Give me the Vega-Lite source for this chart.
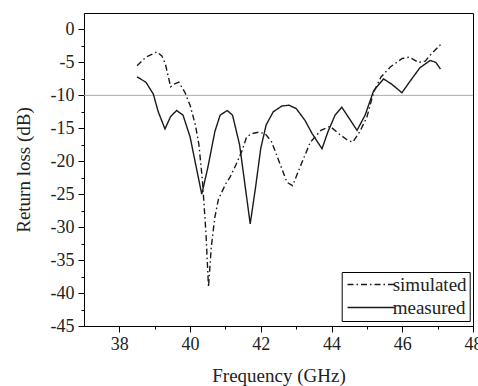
{
  "$schema": "https://vega.github.io/schema/vega-lite/v6.json",
  "width": 389,
  "height": 313,
  "autosize": {"type": "none"},
  "padding": {"left": 84, "top": 13, "right": 5, "bottom": 60},
  "background": "white",
  "config": {
    "font": "Liberation Serif",
    "view": {"stroke": "black", "strokeWidth": 1},
    "axis": {"labelOverlap": false, "labelFlush": false}
  },
  "resolve": {"axis": {"y": "independent"}},
  "layer": [
    {
      "data": {"values": [{"level": -10}]},
      "mark": {"type": "rule", "color": "#aaaaaa", "strokeWidth": 1},
      "encoding": {
        "y": {
          "field": "level",
          "type": "quantitative",
          "scale": {"domain": [-45, 2.5], "nice": false, "zero": false},
          "axis": {
            "orient": "left",
            "title": null,
            "values": [-42.5, -37.5, -32.5, -27.5, -22.5, -17.5, -12.5, -7.5, -2.5],
            "labels": false,
            "domain": false,
            "grid": false,
            "tickSize": 3,
            "tickColor": "black"
          }
        }
      }
    },
    {
      "data": {
        "values": [
          {"f": 38.5, "rl": -7.2, "series": "measured"},
          {"f": 38.75, "rl": -8.0, "series": "measured"},
          {"f": 38.96, "rl": -9.8, "series": "measured"},
          {"f": 39.1, "rl": -12.5, "series": "measured"},
          {"f": 39.29, "rl": -15.1, "series": "measured"},
          {"f": 39.45, "rl": -13.2, "series": "measured"},
          {"f": 39.62, "rl": -12.3, "series": "measured"},
          {"f": 39.8, "rl": -13.0, "series": "measured"},
          {"f": 40.0, "rl": -16.3, "series": "measured"},
          {"f": 40.17, "rl": -20.8, "series": "measured"},
          {"f": 40.33, "rl": -25.0, "series": "measured"},
          {"f": 40.5, "rl": -21.0, "series": "measured"},
          {"f": 40.7, "rl": -15.5, "series": "measured"},
          {"f": 40.85, "rl": -13.0, "series": "measured"},
          {"f": 41.05, "rl": -12.3, "series": "measured"},
          {"f": 41.2, "rl": -13.0, "series": "measured"},
          {"f": 41.4, "rl": -17.5, "series": "measured"},
          {"f": 41.55, "rl": -23.5, "series": "measured"},
          {"f": 41.7, "rl": -29.5, "series": "measured"},
          {"f": 41.85, "rl": -24.0, "series": "measured"},
          {"f": 42.0, "rl": -18.0, "series": "measured"},
          {"f": 42.15, "rl": -14.5, "series": "measured"},
          {"f": 42.35, "rl": -12.5, "series": "measured"},
          {"f": 42.6, "rl": -11.6, "series": "measured"},
          {"f": 42.8, "rl": -11.5, "series": "measured"},
          {"f": 43.0, "rl": -12.0, "series": "measured"},
          {"f": 43.25, "rl": -13.8, "series": "measured"},
          {"f": 43.45, "rl": -15.8, "series": "measured"},
          {"f": 43.73, "rl": -18.1, "series": "measured"},
          {"f": 43.9, "rl": -15.5, "series": "measured"},
          {"f": 44.1, "rl": -13.0, "series": "measured"},
          {"f": 44.29, "rl": -11.8, "series": "measured"},
          {"f": 44.5, "rl": -13.5, "series": "measured"},
          {"f": 44.72, "rl": -15.3, "series": "measured"},
          {"f": 44.95, "rl": -13.0, "series": "measured"},
          {"f": 45.19, "rl": -9.3, "series": "measured"},
          {"f": 45.47, "rl": -7.5, "series": "measured"},
          {"f": 45.7, "rl": -8.3, "series": "measured"},
          {"f": 45.99, "rl": -9.6, "series": "measured"},
          {"f": 46.2, "rl": -8.0, "series": "measured"},
          {"f": 46.5, "rl": -5.8, "series": "measured"},
          {"f": 46.79, "rl": -4.7, "series": "measured"},
          {"f": 46.95, "rl": -5.0, "series": "measured"},
          {"f": 47.08, "rl": -6.0, "series": "measured"},
          {"f": 38.5, "rl": -5.5, "series": "simulated"},
          {"f": 38.75, "rl": -4.2, "series": "simulated"},
          {"f": 39.06, "rl": -3.4, "series": "simulated"},
          {"f": 39.2, "rl": -4.0, "series": "simulated"},
          {"f": 39.3, "rl": -5.2, "series": "simulated"},
          {"f": 39.45, "rl": -8.7, "series": "simulated"},
          {"f": 39.55, "rl": -8.3, "series": "simulated"},
          {"f": 39.68, "rl": -8.0, "series": "simulated"},
          {"f": 39.85, "rl": -9.5, "series": "simulated"},
          {"f": 40.0, "rl": -11.5, "series": "simulated"},
          {"f": 40.15, "rl": -14.5, "series": "simulated"},
          {"f": 40.25, "rl": -17.5, "series": "simulated"},
          {"f": 40.35, "rl": -23.0, "series": "simulated"},
          {"f": 40.45, "rl": -31.0, "series": "simulated"},
          {"f": 40.52, "rl": -39.1, "series": "simulated"},
          {"f": 40.6, "rl": -33.0, "series": "simulated"},
          {"f": 40.7, "rl": -28.5, "series": "simulated"},
          {"f": 40.8, "rl": -25.8, "series": "simulated"},
          {"f": 41.0, "rl": -23.5, "series": "simulated"},
          {"f": 41.13, "rl": -22.4, "series": "simulated"},
          {"f": 41.3, "rl": -20.5, "series": "simulated"},
          {"f": 41.46, "rl": -18.5, "series": "simulated"},
          {"f": 41.6, "rl": -16.3, "series": "simulated"},
          {"f": 41.75, "rl": -15.8, "series": "simulated"},
          {"f": 41.93, "rl": -15.6, "series": "simulated"},
          {"f": 42.12, "rl": -15.8, "series": "simulated"},
          {"f": 42.3, "rl": -17.0, "series": "simulated"},
          {"f": 42.5, "rl": -19.8, "series": "simulated"},
          {"f": 42.74, "rl": -23.2, "series": "simulated"},
          {"f": 42.9, "rl": -23.7, "series": "simulated"},
          {"f": 43.1, "rl": -21.0, "series": "simulated"},
          {"f": 43.4, "rl": -17.1, "series": "simulated"},
          {"f": 43.7, "rl": -15.3, "series": "simulated"},
          {"f": 43.96, "rl": -14.7, "series": "simulated"},
          {"f": 44.2, "rl": -15.8, "series": "simulated"},
          {"f": 44.45, "rl": -16.8, "series": "simulated"},
          {"f": 44.6, "rl": -17.1, "series": "simulated"},
          {"f": 44.8, "rl": -15.5, "series": "simulated"},
          {"f": 45.0, "rl": -13.3, "series": "simulated"},
          {"f": 45.19, "rl": -9.5, "series": "simulated"},
          {"f": 45.4, "rl": -7.2, "series": "simulated"},
          {"f": 45.66, "rl": -5.7, "series": "simulated"},
          {"f": 46.0, "rl": -4.4, "series": "simulated"},
          {"f": 46.2, "rl": -4.2, "series": "simulated"},
          {"f": 46.46, "rl": -5.0, "series": "simulated"},
          {"f": 46.65, "rl": -4.8, "series": "simulated"},
          {"f": 46.79, "rl": -3.9, "series": "simulated"},
          {"f": 47.08, "rl": -2.3, "series": "simulated"}
        ]
      },
      "mark": {"type": "line", "strokeWidth": 1.4, "color": "#1a1a1a"},
      "encoding": {
        "x": {
          "field": "f",
          "type": "quantitative",
          "scale": {"domain": [37, 48], "nice": false, "zero": false},
          "axis": {
            "title": "Frequency (GHz)",
            "values": [38, 39, 40, 41, 42, 43, 44, 45, 46, 47, 48],
            "labelExpr": "datum.value % 2 == 0 ? '' + datum.value : ''",
            "tickSize": {"condition": {"test": "datum.value % 2 == 0", "value": 6}, "value": 3},
            "grid": false,
            "domainColor": "black",
            "tickColor": "black",
            "labelColor": "#222222",
            "labelFontSize": 18,
            "labelPadding": 3,
            "labelFlush": false,
            "labelOverlap": false,
            "titleFontSize": 19,
            "titleFontWeight": "normal",
            "titleColor": "#222222",
            "titlePadding": 13
          }
        },
        "y": {
          "field": "rl",
          "type": "quantitative",
          "scale": {"domain": [-45, 2.5], "nice": false, "zero": false},
          "axis": {
            "orient": "left",
            "title": "Return loss (dB)",
            "values": [-45, -40, -35, -30, -25, -20, -15, -10, -5, 0],
            "labelExpr": "'' + datum.value",
            "tickSize": 6,
            "grid": false,
            "domainColor": "black",
            "tickColor": "black",
            "labelColor": "#222222",
            "labelFontSize": 18,
            "labelPadding": 4,
            "labelFlush": false,
            "labelOverlap": false,
            "titleFontSize": 19,
            "titleFontWeight": "normal",
            "titleColor": "#222222",
            "titlePadding": 17
          }
        },
        "strokeDash": {
          "field": "series",
          "type": "nominal",
          "scale": {"domain": ["simulated", "measured"], "range": [[6, 3, 1.5, 3], [1, 0]]},
          "legend": {
            "title": null,
            "orient": "none",
            "legendX": 257.7,
            "legendY": 259,
            "symbolType": "M-1.34,0H8.1",
            "symbolSize": 100,
            "symbolStrokeWidth": 1.4,
            "symbolStrokeColor": "#1a1a1a",
            "labelFontSize": 19,
            "labelColor": "#222222",
            "labelOffset": 29,
            "rowPadding": 3,
            "padding": 3,
            "strokeColor": "black",
            "fillColor": "white"
          }
        }
      }
    }
  ]
}
